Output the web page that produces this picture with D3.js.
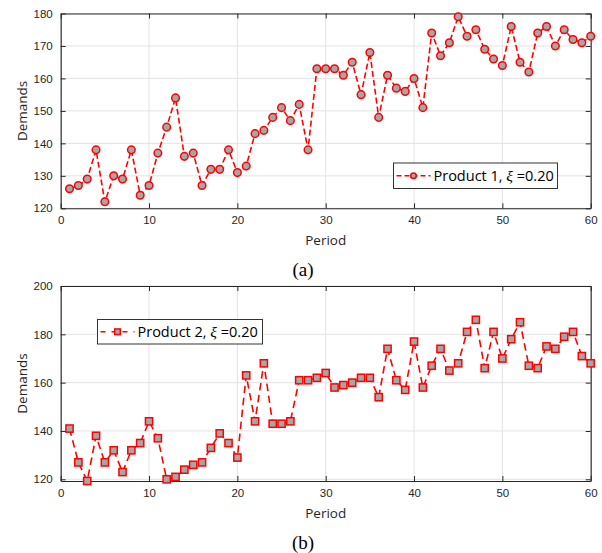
<!DOCTYPE html>
<html><head><meta charset="utf-8">
<script src="https://cdn.jsdelivr.net/npm/d3@7"></script>
<style>
body{margin:0;background:#fff;}
svg{display:block;}
</style></head>
<body>
<svg id="chart" width="602" height="553"></svg>
<script>
const periods = d3.range(1, 61);
const product1 = [126,127,129,138,122,130,129,138,124,127,137,145,154,136,137,127,132,132,138,131,
  133,143,144,148,151,147,152,138,163,163,163,161,165,155,168,148,161,157,156,160,
  151,174,167,171,179,173,175,169,166,164,176,165,162,174,176,170,175,172,171,173];
const product2 = [141,127,119.3,138,127,132,123,132,135,144,137,120,121,124,126,127,133,139,135,129,
  163,144,168,143,143,144,161,161,162,164,158,159,160,162,162,154,174,161,157,177,
  158,167,174,165,168,181,186,166,181,170,178,185,167,166,175,174,179,181,171,168];
const xTicks = [0,10,20,30,40,50,60];
const yTicks1 = [120,130,140,150,160,170,180];
const yTicks2 = [120,140,160,180,200];
const legend1 = "Product 1, ";
const legend2 = "Product 2, ";
const xiLabel = "ξ";
const xiValue = " =0.20";
const panelLabels = ["(a)", "(b)"];

const svg = d3.select("#chart");
const sansFont = "'Liberation Sans', Arial, sans-serif";
const labelFont = "'Open Sans', 'Noto Sans', sans-serif";

function panel(cfg){
  const g = svg.append("g");
  const x = d3.scaleLinear().domain([0,60]).range([60.7, 590.7]);
  const y = d3.scaleLinear().domain(cfg.yDomain).range([cfg.bottom, cfg.top]);
  // grid
  g.append("g").selectAll("line.gx").data(xTicks).join("line")
    .attr("x1", d=>x(d)).attr("x2", d=>x(d)).attr("y1", cfg.top).attr("y2", cfg.bottom)
    .attr("stroke", "#e3e3e3").attr("stroke-width", 1);
  g.append("g").selectAll("line.gy").data(cfg.yTicks).join("line")
    .attr("x1", x(0)).attr("x2", x(60)).attr("y1", d=>y(d)).attr("y2", d=>y(d))
    .attr("stroke", "#e3e3e3").attr("stroke-width", 1);
  // axes
  const ax = (gen, tr) => {
    const a = g.append("g").attr("transform", tr).call(gen);
    a.select(".domain").attr("stroke", "#262626").attr("stroke-width", 1.1);
    a.selectAll(".tick line").attr("stroke", "#262626");
    a.selectAll("text").attr("font-family", sansFont).attr("font-size", 11.5).attr("fill", "#262626");
    return a;
  };
  ax(d3.axisBottom(x).tickValues(xTicks).tickSizeInner(-5).tickSizeOuter(0).tickPadding(8), `translate(0,${cfg.bottom})`);
  ax(d3.axisTop(x).tickValues(xTicks).tickSizeInner(-5).tickSizeOuter(0).tickFormat(""), `translate(0,${cfg.top})`);
  ax(d3.axisLeft(y).tickValues(cfg.yTicks).tickSizeInner(-5).tickSizeOuter(0).tickPadding(8), `translate(${x(0)},0)`);
  ax(d3.axisRight(y).tickValues(cfg.yTicks).tickSizeInner(-5).tickSizeOuter(0).tickFormat(""), `translate(${x(60)},0)`);
  // line
  const line = d3.line().x((d,i)=>x(periods[i])).y(d=>y(d));
  g.append("path").datum(cfg.data).attr("d", line)
    .attr("fill", "none").attr("stroke", "#ff0000").attr("stroke-width", 1.6)
    .attr("stroke-dasharray", cfg.dash);
  // markers
  const mk = g.append("g");
  if(cfg.marker === "circle"){
    mk.selectAll("circle").data(cfg.data).join("circle")
      .attr("cx", (d,i)=>x(periods[i])).attr("cy", d=>y(d)).attr("r", 3.8)
      .attr("fill", "#a6a6a6").attr("stroke", "#ff0000").attr("stroke-width", 1.5);
  } else {
    mk.selectAll("rect").data(cfg.data).join("rect")
      .attr("x", (d,i)=>x(periods[i])-3.6).attr("y", d=>y(d)-3.6).attr("width", 7.2).attr("height", 7.2)
      .attr("fill", "#a6a6a6").attr("stroke", "#ff0000").attr("stroke-width", 1.5);
  }
  // labels
  g.append("text").attr("x", (x(0)+x(60))/2).attr("y", cfg.bottom+37)
    .attr("text-anchor", "middle").attr("font-family", labelFont).attr("font-size", 13.5).attr("fill", "#262626")
    .text("Period");
  g.append("text").attr("transform", `translate(27,${(cfg.top+cfg.bottom)/2}) rotate(-90)`)
    .attr("text-anchor", "middle").attr("font-family", labelFont).attr("font-size", 13.5).attr("fill", "#262626")
    .text("Demands");
  g.append("text").attr("x", 303).attr("y", cfg.bottom+68)
    .attr("text-anchor", "middle").attr("font-family", "'Liberation Serif', 'Times New Roman', serif").attr("font-size", 19).attr("fill", "#000")
    .text(cfg.panelLabel);
  // legend
  const L = cfg.legend;
  const lg = g.append("g");
  lg.append("rect").attr("x", L.x).attr("y", L.y).attr("width", L.w).attr("height", L.h)
    .attr("fill", "#fff").attr("stroke", "#333").attr("stroke-width", 1);
  const ly = L.y + L.h/2;
  lg.append("line").attr("x1", L.x+3).attr("x2", L.x+37).attr("y1", ly).attr("y2", ly)
    .attr("stroke", "#ff0000").attr("stroke-width", 1.6).attr("stroke-dasharray", cfg.legendDash);
  if(cfg.marker === "circle"){
    lg.append("circle").attr("cx", L.x+20).attr("cy", ly).attr("r", 2.8)
      .attr("fill", "#a6a6a6").attr("stroke", "#ff0000").attr("stroke-width", 1.5);
  } else {
    lg.append("rect").attr("x", L.x+20-2.8).attr("y", ly-2.8).attr("width", 5.6).attr("height", 5.6)
      .attr("fill", "#a6a6a6").attr("stroke", "#ff0000").attr("stroke-width", 1.5);
  }
  const t = lg.append("text").attr("x", L.x+40).attr("y", ly+5)
    .attr("font-family", labelFont).attr("font-size", 14.5).attr("fill", "#000");
  t.append("tspan").text(cfg.legendText);
  t.append("tspan").attr("font-family", "'Liberation Serif', 'Times New Roman', serif").attr("font-style", "italic").attr("font-size", 15.5).text(xiLabel);
  t.append("tspan").text(xiValue);
}

panel({top:13.5, bottom:208.3, yDomain:[120,180], yTicks:yTicks1, data:product1, marker:"circle",
  dash:"6,3", legendDash:"5,3", legendText:legend1, panelLabel:panelLabels[0],
  legend:{x:393.5, y:163, w:164, h:25.5}});
panel({top:286, bottom:481, yDomain:[d3.min(product2),200], yTicks:yTicks2, data:product2, marker:"square",
  dash:"7.5,4.5", legendDash:"5,6", legendText:legend2, panelLabel:panelLabels[1],
  legend:{x:97.5, y:319.5, w:165, h:24.5}});
</script>
</body></html>
